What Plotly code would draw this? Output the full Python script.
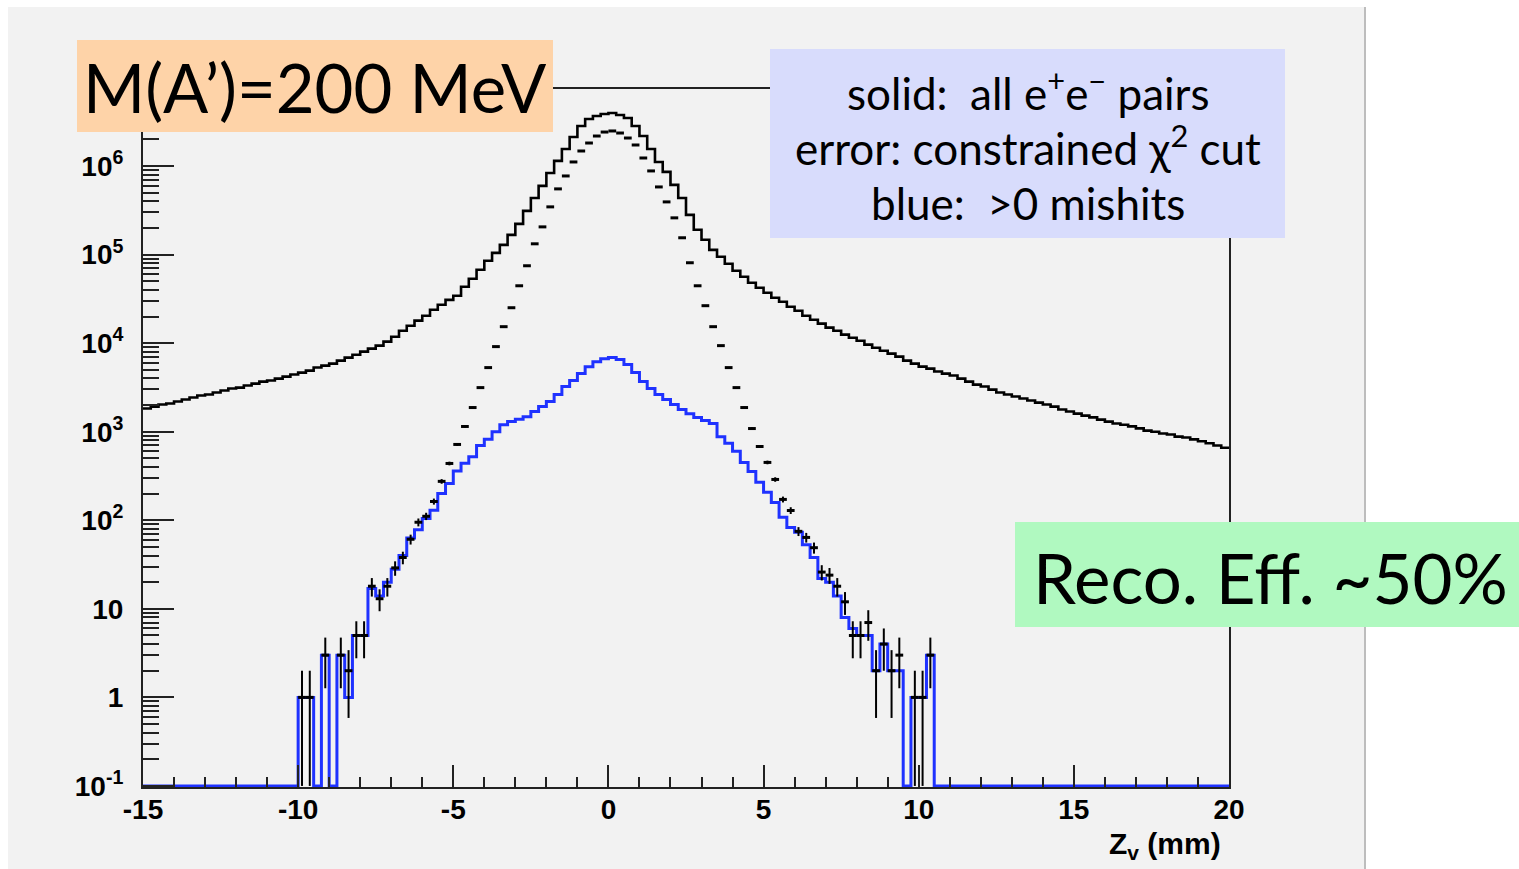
import numpy as np
import plotly.graph_objects as go

# ---------------- data ----------------
x_min, x_max, bin_width = -15.0, 20.0, 0.25

# solid: all e+e- pairs
all_pairs = [
    1830, 1920, 2030, 2080, 2190, 2310, 2430, 2560, 2630, 2770,
    2920, 3070, 3150, 3320, 3490, 3680, 3780, 3980, 4190, 4420,
    4650, 4900, 5300, 5570, 5880, 6350, 6870, 7410, 8020, 8670,
    9380, 10400, 11830, 13830, 15740, 17950, 20420, 23880, 27170, 30800,
    34360, 43360, 53330, 67450, 85110, 104700, 128800, 167100, 222300, 311900,
    436500, 597000, 835700, 1143000, 1560000, 2128000, 2831000, 3396000, 3673000, 3864000,
    3972000, 3767000, 3484000, 2831000, 2183000, 1560000, 1112000, 859000, 612400, 436500,
    281200, 190500, 146900, 113200, 94400, 78700, 65600, 56200, 48080, 42270,
    37070, 32580, 29380, 25760, 23230, 20420, 18410, 16600, 14960, 13830,
    12470, 11530, 10660, 9620, 8890, 8220, 7620, 7050, 6350, 5880,
    5430, 5160, 4780, 4530, 4310, 3980, 3680, 3400, 3240, 2990,
    2770, 2630, 2500, 2370, 2250, 2130, 2030, 1920, 1780, 1690,
    1600, 1520, 1450, 1370, 1300, 1240, 1200, 1150, 1090, 1030,
    1000, 955, 930, 880, 860, 820, 780, 740, 700, 660,
]

# error bars: constrained chi2 cut
chi2_cut = (
    [0] * 20 +
    [1, 1, 0, 3, 0, 3, 2, 5, 5, 18,
     13, 18, 29, 38, 61, 95, 111, 163, 275, 438,
     718, 1146, 1875, 3148, 5297, 9141, 15350, 25120, 44460, 74820,
     132400, 205600, 345900, 552100, 772700, 1112000, 1479000, 1820000, 2183000, 2421000,
     2489000, 2360000, 2073000, 1729000, 1233000, 880700, 580800, 393600, 260000, 154900,
     80910, 44460, 26490, 15350, 9376, 5297, 3148, 1875, 1086, 681,
     450, 289, 172, 129, 75, 64, 49, 26, 24, 18,
     12, 5, 5, 7, 2, 4, 2, 3, 0, 1,
     1, 3] +
    [0] * 38
)

# blue: > 0 mishits
mishits = (
    [0] * 20 +
    [1, 1, 0, 3, 0, 3, 1, 5, 5, 17,
     14, 20, 28, 40, 63, 78, 105, 130, 200, 260,
     360, 440, 520, 700, 820, 1000, 1200, 1300, 1380, 1480,
     1690, 1920, 2190, 2630, 3240, 3780, 4530, 5430, 6180, 6680,
     6870, 6520, 5730, 4650, 3680, 3070, 2630, 2310, 2030, 1780,
     1600, 1450, 1340, 1240, 880, 740, 600, 450, 355, 268,
     207, 159, 108, 83, 73, 53, 38, 22, 20, 14,
     8, 6, 5, 5, 2, 4, 2, 2, 0, 1,
     1, 3] +
    [0] * 38
)

x_ticks = [-15, -10, -5, 0, 5, 10, 15, 20]
x_tick_text = ["-15", "-10", "-5", "0", "5", "10", "15", "20"]
y_decades = [-1, 0, 1, 2, 3, 4, 5, 6]
y_tick_text = ["10<sup>-1</sup>", "1", "10", "10<sup>2</sup>", "10<sup>3</sup>",
               "10<sup>4</sup>", "10<sup>5</sup>", "10<sup>6</sup>"]

# ---------------- layout geometry (pixels) ----------------
W, H = 1519, 869
L, R, T, B = 143, 1229, 89, 787
y_lo, y_hi = -1.012, 6.87
y_floor = 0.1


def fx(px):
    return (px - L) / (R - L)


def fy(py):
    return (B - py) / (B - T)


nb = len(all_pairs)
edges = x_min + bin_width * np.arange(nb + 1)
centers = x_min + bin_width * (np.arange(nb) + 0.5)

solid_step = list(all_pairs) + [all_pairs[-1]]
blue_vals = [v if v > 0 else y_floor for v in mishits]
blue_step = blue_vals + [blue_vals[-1]]

chi = np.array(chi2_cut, dtype=float)
nz = chi > 0
ex = centers[nz]
ey = chi[nz]
err_up = np.sqrt(ey)
err_dn = np.minimum(np.sqrt(ey), ey - y_floor)

fig = go.Figure()
fig.add_trace(go.Scatter(
    x=edges, y=solid_step, mode="lines",
    line=dict(color="black", width=2.6, shape="hv"),
    hoverinfo="skip", showlegend=False))
fig.add_trace(go.Scatter(
    x=edges, y=blue_step, mode="lines",
    line=dict(color="#1f32ff", width=3, shape="hv"),
    hoverinfo="skip", showlegend=False))
fig.add_trace(go.Scatter(
    x=ex, y=ey, mode="markers", yaxis="y2",
    marker=dict(size=1, color="rgba(0,0,0,0)"),
    error_x=dict(type="constant", value=bin_width / 2, thickness=3, width=0, color="black"),
    error_y=dict(type="data", array=err_up, arrayminus=err_dn, symmetric=False,
                 thickness=2, width=0, color="black"),
    hoverinfo="skip", showlegend=False))

tick_font = dict(family="Liberation Sans, Arial, sans-serif", size=28, color="black", weight="bold")
minor_vals = [m * 10.0 ** d for d in range(-1, 7) for m in range(2, 10) if np.log10(m * 10.0 ** d) < y_hi]

fig.update_layout(
    width=W, height=H,
    margin=dict(l=L, r=W - R, t=T, b=H - B, pad=0),
    paper_bgcolor="white", plot_bgcolor="#f2f2f2",
    showlegend=False,
    xaxis=dict(
        range=[x_min, x_max], showgrid=False, zeroline=False,
        showline=True, linecolor="#222", linewidth=2, mirror=True,
        tickmode="array", tickvals=x_ticks, ticktext=x_tick_text,
        ticks="inside", ticklen=22, tickwidth=1.5, tickcolor="#222",
        minor=dict(dtick=1, ticks="inside", ticklen=10, tickwidth=1.5, tickcolor="#222", showgrid=False),
        tickfont=tick_font, ticklabelstandoff=-4,
    ),
    yaxis=dict(
        type="log", range=[y_lo, y_hi], showgrid=False, zeroline=False,
        showline=True, linecolor="#222", linewidth=2, mirror=True,
        tickmode="array", tickvals=[10.0 ** d for d in y_decades], ticktext=y_tick_text,
        ticks="inside", ticklen=31, tickwidth=1.5, tickcolor="#222",
        tickfont=tick_font, ticklabelstandoff=12,
    ),
    yaxis2=dict(
        type="log", range=[y_lo, y_hi], overlaying="y", anchor="x", side="left",
        showgrid=False, zeroline=False, showline=False,
        tickmode="array", tickvals=minor_vals, ticks="inside", ticklen=16,
        tickwidth=1.5, tickcolor="#222", showticklabels=False,
    ),
)

shapes = [
    # grey canvas panel
    dict(type="rect", xref="paper", yref="paper", x0=fx(8), x1=fx(1365), y0=fy(869), y1=fy(7),
         fillcolor="#f2f2f2", line=dict(width=0), layer="below"),
    dict(type="line", xref="paper", yref="paper", x0=fx(1365), x1=fx(1365), y0=fy(869), y1=fy(7),
         line=dict(color="#bdbdbd", width=2), layer="below"),
    # text boxes
    dict(type="rect", xref="paper", yref="paper", x0=fx(77), x1=fx(553), y0=fy(132), y1=fy(40),
         fillcolor="#fed3a8", line=dict(width=0), layer="above"),
    dict(type="rect", xref="paper", yref="paper", x0=fx(770), x1=fx(1285), y0=fy(238), y1=fy(49),
         fillcolor="#d8dcfc", line=dict(width=0), layer="above"),
    dict(type="rect", xref="paper", yref="paper", x0=fx(1015), x1=fx(1519), y0=fy(627), y1=fy(522),
         fillcolor="#b0f9c0", line=dict(width=0), layer="above"),
]
fig.update_layout(shapes=shapes)

ann_font = "Lato, 'Open Sans', sans-serif"
nb_sp = "\u00a0"
annotations = [
    dict(text="M(A’)=200 MeV", x=fx(315), y=fy(87), font=dict(family=ann_font, size=67, color="black")),
    dict(text="solid:" + nb_sp * 2 + "all e<sup>+</sup>e<sup>−</sup> pairs", x=fx(1028), y=fy(90),
         font=dict(family=ann_font, size=44, color="black")),
    dict(text="error: constrained χ<sup>2</sup> cut", x=fx(1028), y=fy(146),
         font=dict(family=ann_font, size=44, color="black")),
    dict(text="blue:" + nb_sp * 2 + "&gt;0 mishits", x=fx(1028), y=fy(203),
         font=dict(family=ann_font, size=44, color="black")),
    dict(text="Reco. Eff. ~50%", x=fx(1270), y=fy(577), font=dict(family=ann_font, size=69, color="black")),
]
for a in annotations:
    a.update(xref="paper", yref="paper", xanchor="center", yanchor="middle", showarrow=False)
annotations.append(dict(
    text="<b>Z<sub>v</sub> (mm)</b>", xref="paper", yref="paper", x=fx(1223), y=fy(845),
    xanchor="right", yanchor="middle", showarrow=False,
    font=dict(family="Liberation Sans, Arial, sans-serif", size=30, color="black")))
fig.update_layout(annotations=annotations)

fig.write_html("out.html")
